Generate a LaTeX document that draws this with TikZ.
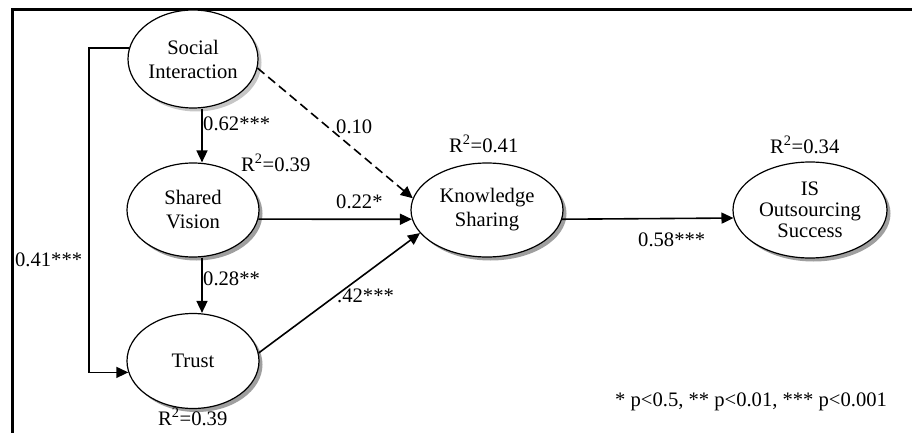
\documentclass[tikz,border=0pt]{standalone}
\usepackage{fontspec}
\setmainfont{Liberation Serif}
\usetikzlibrary{shapes.geometric,arrows.meta,shadows,calc}
\begin{document}
\begin{tikzpicture}[x=1pt,y=-1pt,
  lat/.style={ellipse,draw,line width=1.2pt,fill=white,inner sep=0pt,align=center,
     font=\fontsize{20.6}{24}\selectfont},
  darkshadow/.style={drop shadow={shadow xshift=3.5pt,shadow yshift=-3.5pt,fill=gray!75,opacity=1}},
  lightshadow/.style={drop shadow={shadow xshift=3.5pt,shadow yshift=-3.5pt,fill=gray!45,opacity=1}},
  lbl/.style={anchor=base west,inner sep=0pt,font=\fontsize{20.6}{24}\selectfont},
  arr/.style={line width=1.6pt,-{Triangle[length=12pt,width=11pt]}}]
\useasboundingbox (0,0) rectangle (912,433);
% frame
\draw[line width=3.5pt] (12.5,433) -- (12.5,9.5) -- (912,9.5);
% latent variables
\node[lat,lightshadow,minimum width=130pt,minimum height=98pt] (SI) at (193,59) {Social\\Interaction};
\node[lat,darkshadow,minimum width=132pt,minimum height=94pt] (SV) at (193,210) {Shared\\Vision};
\node[lat,darkshadow,minimum width=132pt,minimum height=95pt] (TR) at (193,361) {Trust};
\node[lat,darkshadow,minimum width=152pt,minimum height=94pt] (KS) at (487,210) {Knowledge\\Sharing};
\node[lat,darkshadow,minimum width=154pt,minimum height=96pt,font=\fontsize{20.6}{21}\selectfont] (IS) at (810,210) {IS\\Outsourcing\\Success};
% paths
\coordinate (lx) at (89,0);
\draw[arr] (SI.170) -- (SI.170 -| lx) -- (TR.190 -| lx) -- (TR.190);
\draw[arr] ($(SI.south)+(9,0)$) -- ($(SV.north)+(9,0)$);
\draw[arr] ($(SV.south)+(9,0)$) -- ($(TR.north)+(9,0)$);
\draw[arr,dash pattern=on 9pt off 5pt] (SI.-8) -- (KS.171);
\draw[arr] (SV.-8.8) -- (KS.187.7);
\draw[arr] (TR.7.7) -- (KS.199);
\draw[arr] (KS.-7) -- (IS.186.8);
% labels
\node[lbl] (l1) at (203,131) {0.62***};
\node[lbl] (l2) at (336,133) {0.10};
\node[lbl] (l3) at (241,171) {R\textsuperscript{2}=0.39};
\node[lbl] (l4) at (336,208) {0.22*};
\node[lbl] (l5) at (449,152) {R\textsuperscript{2}=0.41};
\node[lbl] (l6) at (770,153) {R\textsuperscript{2}=0.34};
\node[lbl] (l7) at (638,246) {0.58***};
\node[lbl] (l8) at (203,285) {0.28**};
\node[lbl] (l9) at (337,302) {.42***};
\node[lbl] (l10) at (15,266) {0.41***};
\node[lbl] (l11) at (158,425) {R\textsuperscript{2}=0.39};
\node[lbl] (l12) at (615,406) {* p<0.5, ** p<0.01, *** p<0.001};
\end{tikzpicture}
\end{document}
